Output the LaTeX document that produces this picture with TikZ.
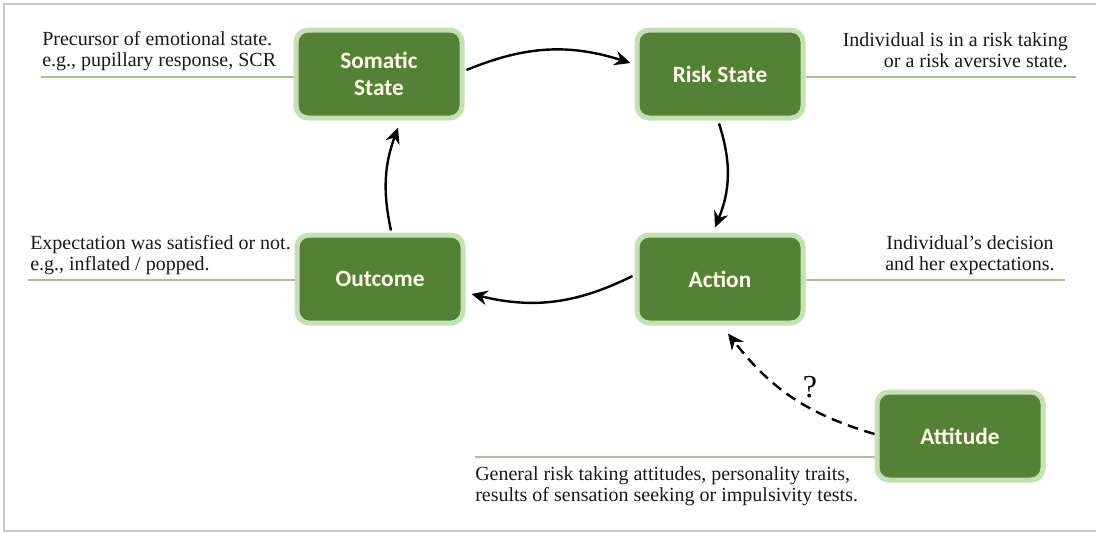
\documentclass[tikz,border=0pt]{standalone}
\usepackage{fontspec}
\setmainfont{Liberation Serif}
\newfontfamily\boxfont{Carlito}
\usetikzlibrary{arrows.meta,calc,backgrounds}

\definecolor{stategreen}{HTML}{538135}
\definecolor{stateedge}{HTML}{C5E0B4}
\definecolor{statetext}{HTML}{FFFDE7}
\definecolor{noteline}{HTML}{A3C48E}
\definecolor{framegray}{HTML}{C8C8C8}

\tikzset{
  statebox/.style={draw=stateedge, line width=3.75pt, fill=stategreen, rounded corners=9pt,
    minimum width=124.5pt, minimum height=66pt, align=center, text=statetext,
    font=\boxfont\bfseries\fontsize{17.5}{20.5}\selectfont},
  note/.style={inner sep=0pt, text depth=0pt, text=black!90, font=\fontsize{15}{15.75}\selectfont},
  noterule/.style={draw=noteline, line width=1.2pt},
  cycle/.style={-{Stealth[length=12pt,width=11pt,inset=4pt]}, line width=1.8pt, bend left=20},
  maybe/.style={-{Stealth[length=12pt,width=11pt,inset=4pt]}, line width=1.8pt,
    dash pattern=on 8pt off 5pt, bend left=18},
}

\begin{document}
\begin{tikzpicture}[x=0.75pt, y=-0.75pt]
\useasboundingbox (0,0) rectangle (1096,532);

% frame, open on the right
\draw[framegray, line width=1.2pt] (1096,4) -- (4,4) -- (4,531) -- (1096,531);

% states
\node[statebox] (somatic)  at (379,74)  {Somatic\\State};
\node[statebox] (risk)     at (720,74)  {Risk State};
\node[statebox] (outcome)  at (380,279) {Outcome};
\node[statebox] (action)   at (720,279) {Action};
\node[statebox] (attitude) at (960,436) {Attitude};

% notes
\node[note, anchor=south west, align=left] (somaticnote) at (42,67)
  {Precursor of emotional state.\\e.g., pupillary response, SCR};
\node[note, anchor=south east, align=right] (risknote) at (1068,68)
  {Individual is in a risk taking\\or a risk aversive state.};
\node[note, anchor=south west, align=left] (outcomenote) at (30,271)
  {Expectation was satisfied or not.\\e.g., inflated / popped.};
\node[note, anchor=south, align=center] (actionnote) at (970,271)
  {Individual's decision\\and her expectations.};
\node[note, anchor=south west, align=left] (attitudenote) at (475,502)
  {General risk taking attitudes, personality traits,\\results of sensation seeking or impulsivity tests.};

% rules under the notes
\coordinate (somaticend)  at (41,77);
\coordinate (riskend)     at (1076,77);
\coordinate (outcomeend)  at (28,280);
\coordinate (actionend)   at (1065,280);
\coordinate (attitudeend) at (475,457);
\begin{scope}[on background layer]
  \draw[noterule] (somaticend) -- (somaticend -| somatic.west);
  \draw[noterule] (riskend) -- (riskend -| risk.east);
  \draw[noterule] (outcomeend) -- (outcomeend -| outcome.west);
  \draw[noterule] (actionend) -- (actionend -| action.east);
  \draw[noterule] (attitudeend) -- (attitudeend -| attitude.west);
\end{scope}

% the cycle
\draw[cycle] ($(somatic.east)+(2,-4)$) to ($(risk.west)+(-4,-11)$);
\draw[cycle] ($(risk.south)+(-1,3)$) to ($(action.north)+(-5,-5)$);
\draw[cycle] ($(action.west)+(-2,-3)$) to ($(outcome.east)+(6,15)$);
\draw[cycle, bend left=16] ($(outcome.north)+(11,-2)$) to ($(somatic.south)+(19,7)$);

% attitude to action
\draw[maybe] ($(attitude.west)+(0,-2)$) to
  node[pos=0.45, anchor=south west, inner sep=2pt, font=\fontsize{24}{26}\selectfont] (qmark) {?}
  ($(action.south)+(8,8)$);

\end{tikzpicture}
\end{document}
